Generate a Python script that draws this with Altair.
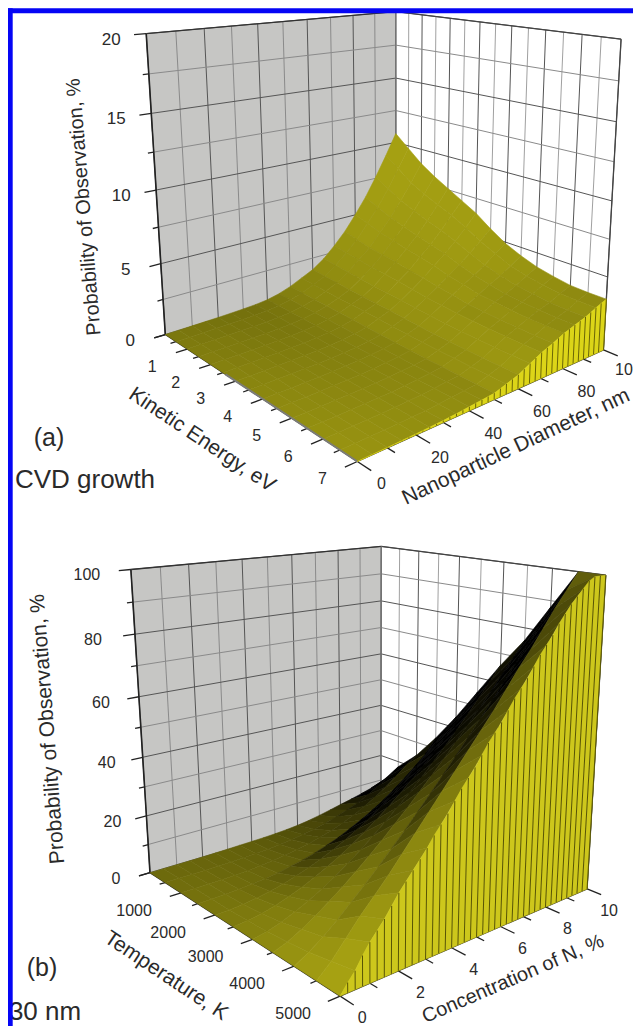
import numpy as np
import pandas as pd
import altair as alt

alt.data_transformers.disable_max_rows()

# ---------------- panel (a) values: probability, %, rows = kinetic energy, columns = diameter
energy = [0, .5, 1, 1.5, 2, 2.5, 3, 3.5, 4, 4.5, 5, 5.5, 6, 6.5, 7]
diameter = list(range(0, 101, 5))
prob_a = [
 [0,.02,.04,.06,.08,.11,.15,.2,.3,.5,.8,1.2,1.6,2.2,3,3.9,5,6.2,7.6,9.1,10.7],
 [0,.02,.04,.06,.08,.11,.15,.2,.3,.48,.75,1.13,1.5,2.1,2.85,3.65,4.7,5.75,7,8.4,9.8],
 [0,.02,.04,.06,.08,.1,.14,.2,.29,.46,.7,1.06,1.43,1.98,2.7,3.4,4.35,5.3,6.4,7.6,8.9],
 [0,.02,.03,.05,.07,.1,.14,.19,.28,.44,.66,1,1.35,1.9,2.55,3.25,4.1,4.95,5.95,7.05,8.2],
 [0,.02,.03,.05,.07,.1,.14,.19,.28,.42,.63,.96,1.3,1.8,2.45,3.1,3.85,4.65,5.55,6.55,7.6],
 [0,.02,.03,.05,.07,.1,.13,.19,.27,.41,.6,.92,1.24,1.74,2.35,2.9,3.65,4.35,5.2,6.1,7],
 [0,.01,.03,.05,.07,.1,.13,.19,.27,.39,.56,.87,1.18,1.66,2.2,2.75,3.4,4.05,4.75,5.55,6.4],
 [0,.01,.03,.05,.07,.09,.13,.18,.26,.37,.52,.81,1.1,1.56,2.05,2.55,3.1,3.65,4.25,4.9,5.6],
 [0,.01,.02,.05,.06,.09,.13,.18,.26,.36,.48,.76,1.04,1.48,1.95,2.4,2.9,3.3,3.8,4.4,4.9],
 [0,.01,.02,.04,.06,.09,.12,.18,.25,.34,.45,.71,.98,1.4,1.85,2.2,2.65,3.05,3.45,3.9,4.4],
 [0,.01,.02,.04,.06,.09,.12,.18,.25,.33,.43,.69,.95,1.36,1.8,2.15,2.55,2.85,3.2,3.6,4],
 [0,.01,.02,.04,.06,.09,.12,.18,.25,.33,.42,.67,.93,1.33,1.75,2.08,2.45,2.75,3.05,3.4,3.75],
 [0,.01,.02,.04,.06,.09,.12,.18,.25,.32,.4,.65,.91,1.31,1.72,2.03,2.38,2.65,2.9,3.25,3.55],
 [0,.01,.02,.04,.06,.09,.12,.18,.25,.32,.4,.65,.9,1.3,1.7,2,2.35,2.6,2.85,3.2,3.5],
 [0,.01,.02,.04,.06,.09,.12,.18,.25,.32,.4,.65,.9,1.3,1.7,2,2.35,2.6,2.85,3.2,3.5],
]
edge_d = [i * 2.5 for i in range(41)]
edge_a = [0,.005,.01,.015,.02,.03,.04,.05,.06,.075,.09,.105,.12,.15,.18,.215,.25,.285,.32,.36,.4,
          .52,.65,.77,.9,1.1,1.3,1.5,1.7,1.85,2,2.17,2.35,2.47,2.6,2.72,2.85,3.02,3.2,3.35,3.5]

# ---------------- panel (b) values: probability, %, rows = temperature, columns = N concentration
temperature = list(range(0, 5001, 500))
conc = [i * .5 for i in range(21)]
prob_b = [
 [0,0,0,0,.05,.1,.2,.3,.4,.5,.7,1,1.4,2,2.8,3.7,4.7,5.6,6.6,7.8,9],
 [0,0,0,.02,.06,.14,.27,.45,.72,1.1,1.6,2.2,3,4,5.2,6.6,8.2,10.2,12.5,15,18],
 [0,0,.03,.1,.2,.4,.7,1.1,1.7,2.4,3.3,4.3,5.6,7.1,8.9,11,13.3,16,19,22.3,25],
 [0,.02,.1,.3,.6,1,1.6,2.4,3.3,4.4,5.8,7.3,9.2,11.2,13.5,16,18.9,22,25.4,29,34],
 [0,.1,.44,1,1.76,2.75,3.96,5.4,7,8.9,11,13.3,15.8,18.6,21.6,24.8,28.2,31.8,35.6,39.7,44],
 [0,.4,1.1,2.2,3.6,5.2,7.1,9.2,11.6,14.1,16.9,19.9,23.1,26.5,30,33.7,37.6,41.7,46,50.4,55],
 [0,.8,2.1,3.9,5.9,8.2,10.8,13.6,16.7,20,23.4,27,30.7,34.6,38.7,42.9,47.2,51.7,56.4,61.1,66],
 [0,1.5,3.8,6.4,9.4,12.5,15.9,19.4,23.1,27,30.9,35,39.1,43.4,47.8,52.3,56.8,61.5,66.3,71,76],
 [0,2.5,5.5,9,12.8,16.7,20.8,25,29.3,33.8,38.3,43,47.7,52.5,57.4,62.3,67.3,72.4,77.5,82.7,88],
 [0,4,9,14,18.5,23,28,33,38,43,48,53,58,63,68.5,74,79,84.5,90,95,100],
 [0,5.5,12,17,23,28,33,38.5,44,49.5,55,60.5,66,71.5,77,82.5,88,93,97,100,100],
]
edge_n = [i * .25 for i in range(41)]
edge_b = [0,3,5.5,9,12,14.5,17,20,23,25.5,28,30.5,33,36,38.5,41,44,47,49.5,52,55,58,60.5,63,66,69,
          71.5,74,77,80,82.5,85,88,90.5,93,95,97,99,100,100,100]

# ---------------- labels
z_ticks_a = [0, 5, 10, 15, 20]
e_ticks = [1, 2, 3, 4, 5, 6, 7]
d_ticks = [0, 20, 40, 60, 80]
z_ticks_b = [0, 20, 40, 60, 80, 100]
t_ticks = [1000, 2000, 3000, 4000, 5000]
n_ticks = [0, 2, 4, 6, 8, 10]


def camera(pairs):
    A, b = [], []
    for (X, Y, Z), (u, v) in pairs:
        A.append([X, Y, Z, 1, 0, 0, 0, 0, -u * X, -u * Y, -u * Z])
        A.append([0, 0, 0, 0, X, Y, Z, 1, -v * X, -v * Y, -v * Z])
        b += [u, v]
    m = np.linalg.lstsq(np.array(A, float), np.array(b, float), rcond=None)[0]
    return np.append(m, 1).reshape(3, 4)


CAM_A = camera([((0,0,0),(165,337)),((0,0,1),(146,33)),((0,1,0),(396,262)),((0,1,1),(396,13)),
                ((1,1,0),(603,353)),((1,1,1),(621,38)),((1,0,0),(358,459))])
CAM_B = camera([((0,0,0),(150,874)),((0,0,1),(131,569)),((0,1,0),(381,803)),((0,1,1),(381,547)),
                ((1,1,0),(587,890)),((1,1,1),(606,575)),((1,0,0),(340,995))])


def proj(cam, a, b, z):
    p = cam @ np.array([a, b, z, 1.0])
    return float(p[0] / p[2]), float(p[1] / p[2])


polys, segs, texts = [], [], []
cid = [0]


def poly(pts, color):
    cid[0] += 1
    for i, (x, y) in enumerate(pts):
        polys.append(dict(x=x, y=y, cell=cid[0], o=i, c=color))


def seg(p, q, color, w):
    cid[0] += 1
    for i, (x, y) in enumerate((p, q)):
        segs.append(dict(x=x, y=y, cell=cid[0], o=i, c=color, w=w))


def shade(base, cover):
    cover = min(1.0, cover)
    return "#%02x%02x%02x" % tuple(int(round(v * (1 - cover))) for v in base)


def surface(cam, rows, A, B, amax, bmax, zmax, kA, kB, lw, base):
    n, m = len(A), len(B)
    for i in range(n - 1):
        for j in range(m - 2, -1, -1):
            q = [np.array(proj(cam, A[i + s] / amax, B[j + t] / bmax, rows[i + s][j + t] / zmax))
                 for s, t in ((0, 0), (1, 0), (1, 1), (0, 1))]
            u = (q[1] + q[2] - q[0] - q[3]) / 2
            v = (q[2] + q[3] - q[0] - q[1]) / 2
            area = abs(u[0] * v[1] - u[1] * v[0]) + 1e-6
            d1 = area / (np.hypot(*v) + 1e-6) / kA
            d2 = area / (np.hypot(*u) + 1e-6) / kB
            cover = 1 - (1 - min(1, lw / d1)) * (1 - min(1, lw / d2))
            poly([tuple(p) for p in q], shade(base, cover))


def panel(cam, amax, bmax, zmax, a_minor, a_major_every, b_minor, b_major_every, z_minor, z_major_every):
    poly([proj(cam, 0, 0, 0), proj(cam, 0, 1, 0), proj(cam, 0, 1, 1), proj(cam, 0, 0, 1)], "#c6c6c4")
    poly([proj(cam, 0, 1, 0), proj(cam, 1, 1, 0), proj(cam, 1, 1, 1), proj(cam, 0, 1, 1)], "#ffffff")
    nb = int(round(bmax / b_minor))
    na = int(round(amax / a_minor))
    nz = int(round(zmax / z_minor))
    for k in range(nb + 1):
        f = k / nb
        major = k % b_major_every == 0
        seg(proj(cam, 0, f, 0), proj(cam, 0, f, 1), "#555555" if major else "#8a8a8a", 1)
    for k in range(na + 1):
        f = k / na
        major = k % a_major_every == 0
        seg(proj(cam, f, 1, 0), proj(cam, f, 1, 1), "#555555" if major else "#a0a0a0", 1)
        L = .04 if major else .02
        seg(proj(cam, f, 0, 0), proj(cam, f, -L, 0), "#222222", 1.3)
    for k in range(nb + 1):
        f = k / nb
        L = .055 if k % b_major_every == 0 else .03
        seg(proj(cam, 1, f, 0), proj(cam, 1 + L, f, 0), "#222222", 1.3)
    for k in range(nz + 1):
        f = k / nz
        major = k % z_major_every == 0
        seg(proj(cam, 0, 0, f), proj(cam, 0, 1, f), "#555555" if major else "#8a8a8a", 1)
        seg(proj(cam, 0, 1, f), proj(cam, 1, 1, f), "#555555" if major else "#8a8a8a", 1)
        seg(proj(cam, 0, 0, f), proj(cam, 0, -.04 if major else -.02, f), "#222222", 1.3)
    seg(proj(cam, 0, 0, 0), proj(cam, 0, 0, 1), "#222222", 1.6)
    seg(proj(cam, 0, 0, 1), proj(cam, 0, 1, 1), "#333333", 1.3)
    seg(proj(cam, 0, 1, 1), proj(cam, 1, 1, 1), "#444444", 1.3)
    seg(proj(cam, 1, 1, 1), proj(cam, 1, 1, 0), "#444444", 1.3)
    seg(proj(cam, 0, 1, 0), proj(cam, 0, 1, 1), "#777777", 1.3)
    seg(proj(cam, 0, 0, 0), proj(cam, 1, 0, 0), "#222222", 1.3)
    seg(proj(cam, 1, 0, 0), proj(cam, 1, 1, 0), "#222222", 1.3)


def front_wall(cam, bs, zs, bmax, zmax, fill):
    for j in range(len(bs) - 1, 0, -1):
        a = proj(cam, 1, bs[j] / bmax, 0)
        b = proj(cam, 1, bs[j] / bmax, zs[j] / zmax)
        c = proj(cam, 1, bs[j - 1] / bmax, zs[j - 1] / zmax)
        d = proj(cam, 1, bs[j - 1] / bmax, 0)
        poly([a, b, c, d], fill)


def stripes(cam, bs, zs, bmax, zmax, line):
    for j in range(len(bs)):
        seg(proj(cam, 1, bs[j] / bmax, 0), proj(cam, 1, bs[j] / bmax, zs[j] / zmax), line, .9)


def text(s, x, y, size, angle=0, color="#2a2a2a"):
    texts.append(dict(x=x, y=y, s=s, size=size, angle=angle % 360, color=color))


# panel (a)
panel(CAM_A, 7, 100, 20, .5, 2, 10, 2, 2.5, 2)
surface(CAM_A, prob_a, energy, diameter, 7, 100, 20, 5, 5, .55, (225, 218, 25))
seg(proj(CAM_A, 2.6 / 7, 0, 0), proj(CAM_A, 1, 0, 0), "#7c7c78", 2)
front_wall(CAM_A, edge_d, edge_a, 100, 20, "#dcd518")
stripes(CAM_A, edge_d, edge_a, 100, 20, "#5c5800")
for z in z_ticks_a:
    x, y = proj(CAM_A, 0, 0, z / 20)
    text(str(z), x - 35, y + 6, 17)
for e in e_ticks:
    x, y = proj(CAM_A, e / 7, 0, 0)
    text(str(e), x - 35, y + 18, 16)
for d in d_ticks:
    x, y = proj(CAM_A, 1, d / 100, 0)
    text(str(d), x + 24, y + 23, 16)
text("10", 624, 370, 16)
text("Probability of Observation, %", 84, 207, 20, -94.7)
text("Kinetic Energy, eV", 202, 440, 21, 33.7)
text("Nanoparticle Diameter, nm", 516, 447, 21, -25)
text("(a)", 49, 438, 25)
text("CVD growth", 85, 480, 26)

# panel (b)
panel(CAM_B, 5000, 10, 100, 500, 2, 1, 2, 10, 2)
surface(CAM_B, prob_b, temperature, conc, 5000, 10, 100, 6, 4, .75, (225, 218, 25))
front_wall(CAM_B, edge_n, edge_b, 10, 100, "#cdc71c")
stripes(CAM_B, edge_n, edge_b, 10, 100, "#4a4600")
for z, dx in zip(z_ticks_b, [-34, -34, -36, -38, -42, -44]):
    x, y = proj(CAM_B, 0, 0, z / 100)
    text(str(z), x + dx, y + 6, 16)
for t in t_ticks:
    x, y = proj(CAM_B, t / 5000, 0, 0)
    text(str(t), x - 47, y + 18, 16)
for n in n_ticks:
    x, y = proj(CAM_B, 1, n / 10, 0)
    text(str(n), x + 22, y + 22, 16)
text("Probability of Observation, %", 48, 729, 21, -94.4)
text("Temperature, K", 166, 976, 21, 33.7)
text("Concentration of N, %", 513, 979, 20, -23.3)
text("(b)", 42, 968, 25)
text("30 nm", 45, 1012, 26)

# the page's 625 px content width and 8 px margin fix the scale: one data unit is one picture pixel
X = alt.X("x:Q", scale=alt.Scale(domain=[8, 633], nice=False, zero=False), axis=None)
Y = alt.Y("y:Q", scale=alt.Scale(domain=[1026, 8], nice=False, zero=False), axis=None)

dfp = pd.DataFrame(polys)
dfs = pd.DataFrame(segs)


def seg_layer(d):
    return alt.Chart(d).mark_line().encode(
        x=X, y=Y, detail="cell:N", order="o:Q",
        stroke=alt.Stroke("c:N", scale=None),
        strokeWidth=alt.StrokeWidth("w:Q", scale=None))


def poly_of(d):
    return alt.Chart(d).mark_line(interpolate="linear-closed", strokeWidth=.6).encode(
        x=X, y=Y, detail="cell:N", order="o:Q",
        fill=alt.Fill("c:N", scale=None), stroke=alt.Stroke("c:N", scale=None))


# keep painter's order: alternate polygon and segment layers in drawing order
layers = []
ids = [(c, "p") for c in dfp.cell.unique()] + [(c, "s") for c in dfs.cell.unique()]
ids.sort()
run_kind, run = None, []
runs = []
for c, k in ids:
    if k != run_kind:
        if run:
            runs.append((run_kind, run))
        run_kind, run = k, []
    run.append(c)
runs.append((run_kind, run))
for k, r in runs:
    if k == "p":
        layers.append(poly_of(dfp[dfp.cell.isin(r)]))
    else:
        layers.append(seg_layer(dfs[dfs.cell.isin(r)]))

txt = alt.Chart(pd.DataFrame(texts)).mark_text(font="Liberation Sans", align="center", baseline="middle").encode(
    x=X, y=Y, text="s:N",
    size=alt.Size("size:Q", scale=None),
    angle=alt.Angle("angle:Q", scale=None),
    color=alt.Color("color:N", scale=None))

border = pd.DataFrame({"x": [8, 8], "x2": [12.7, 633], "y": [8.3, 8.3], "y2": [1026, 13.3]})
blue = alt.Chart(border).mark_rect(color="#0505f5").encode(x=X, x2="x2:Q", y=Y, y2="y2:Q")

chart = alt.layer(*layers, txt, blue).properties(
    width=625, height=1018, padding=0,
    autosize=alt.AutoSizeParams(type="none"),
    background="white",
).configure_view(stroke=None)

chart.save("out.html", embed_options={"renderer": "svg", "actions": False})
